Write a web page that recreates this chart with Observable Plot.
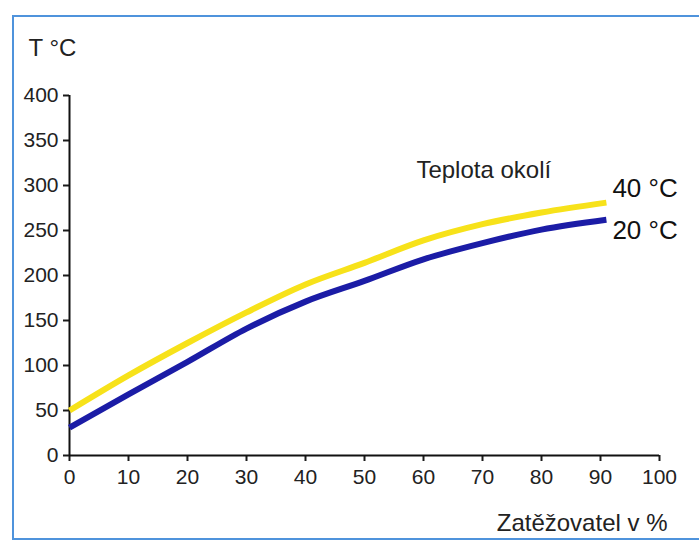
<!DOCTYPE html>
<html>
<head>
<meta charset="utf-8">
<script src="https://cdn.jsdelivr.net/npm/d3@7"></script>
<script src="https://cdn.jsdelivr.net/npm/@observablehq/plot@0.6"></script>
<style>
  html, body { margin: 0; padding: 0; background: #fff; }
  #wrap { position: relative; width: 699px; height: 543px; overflow: hidden; background: #fff; }
  #border { position: absolute; left: 12px; top: 15px; width: 720px; height: 521px;
            border-left: 2px solid #4f93dc; border-top: 2px solid #4f93dc; border-bottom: 2px solid #4f93dc; }
  #chart { position: absolute; left: 0; top: 0; }
</style>
</head>
<body>
<div id="wrap"><div id="border"></div><div id="chart"></div></div>
<script>
// Load of the ballast (Zatěžovatel) in %
const load = [0, 10, 20, 30, 40, 50, 60, 70, 80, 91];
// Temperature at ambient 40 °C
const temp40 = [50, 89, 125, 159, 190, 214, 239, 257, 270, 281];
// Temperature at ambient 20 °C
const temp20 = [31, 68, 104, 141, 171, 194, 218, 236, 251, 262];
const seriesNames = ["40 °C", "20 °C"];
const xTicks = [0, 10, 20, 30, 40, 50, 60, 70, 80, 90, 100];
const yTicks = [0, 50, 100, 150, 200, 250, 300, 350, 400];
const yTitle = "T °C";
const xTitle = "Zatěžovatel v %";
const annotation = "Teplota okolí";

const s40 = load.map((x, i) => ({x, y: temp40[i], s: seriesNames[0]}));
const s20 = load.map((x, i) => ({x, y: temp20[i], s: seriesNames[1]}));

const tickFont = "'Liberation Sans Narrow', 'Arial Narrow', sans-serif";
const font = "'Liberation Sans', Arial, sans-serif";

const chart = Plot.plot({
  width: 699,
  height: 543,
  marginLeft: 69,
  marginRight: 40,
  marginTop: 95,
  marginBottom: 88,
  style: {background: "transparent", color: "#1a1a1a"},
  x: {domain: [0, 100]},
  y: {domain: [0, 400]},
  marks: [
    Plot.axisY({ticks: yTicks, tickSize: 6, tickPadding: 5, strokeWidth: 2, label: null,
      fontSize: 21, fontFamily: tickFont, fill: "#222"}),
    Plot.axisX({ticks: xTicks, tickSize: 6, tickPadding: 8, strokeWidth: 2, label: null,
      fontSize: 21, fontFamily: tickFont, fill: "#222"}),
    Plot.ruleX([0], {y1: 0, y2: 400, stroke: "#111", strokeWidth: 2}),
    Plot.ruleY([0], {stroke: "#111", strokeWidth: 2}),
    Plot.line(s40, {x: "x", y: "y", stroke: "#f7e21a", strokeWidth: 6, curve: "monotone-x", strokeLinecap: "butt"}),
    Plot.line(s20, {x: "x", y: "y", stroke: "#1b1ca6", strokeWidth: 6, curve: "monotone-x", strokeLinecap: "butt"}),
    Plot.text(s40, Plot.selectLast({x: "x", y: "y", text: "s", textAnchor: "start", dx: 6, dy: -14,
      fontSize: 26, fontFamily: font, fill: "#111"})),
    Plot.text(s20, Plot.selectLast({x: "x", y: "y", text: "s", textAnchor: "start", dx: 6, dy: 11,
      fontSize: 26, fontFamily: font, fill: "#111"})),
    Plot.text(s40, Plot.selectLast({x: "x", y: "y", text: () => annotation, textAnchor: "start", dx: -190, dy: -32,
      fontSize: 24, fontFamily: font, fill: "#222"})),
    Plot.text([yTitle], {frameAnchor: "top-left", text: d => d, textAnchor: "start", lineAnchor: "middle",
      dx: -41, dy: -47, fontSize: 24, fontFamily: font, fill: "#222"}),
    Plot.text([xTitle], {frameAnchor: "bottom-right", text: d => d, textAnchor: "end", lineAnchor: "middle",
      dx: 8, dy: 68, fontSize: 24, fontFamily: font, fill: "#222"})
  ]
});
document.getElementById("chart").append(chart);
</script>
</body>
</html>
